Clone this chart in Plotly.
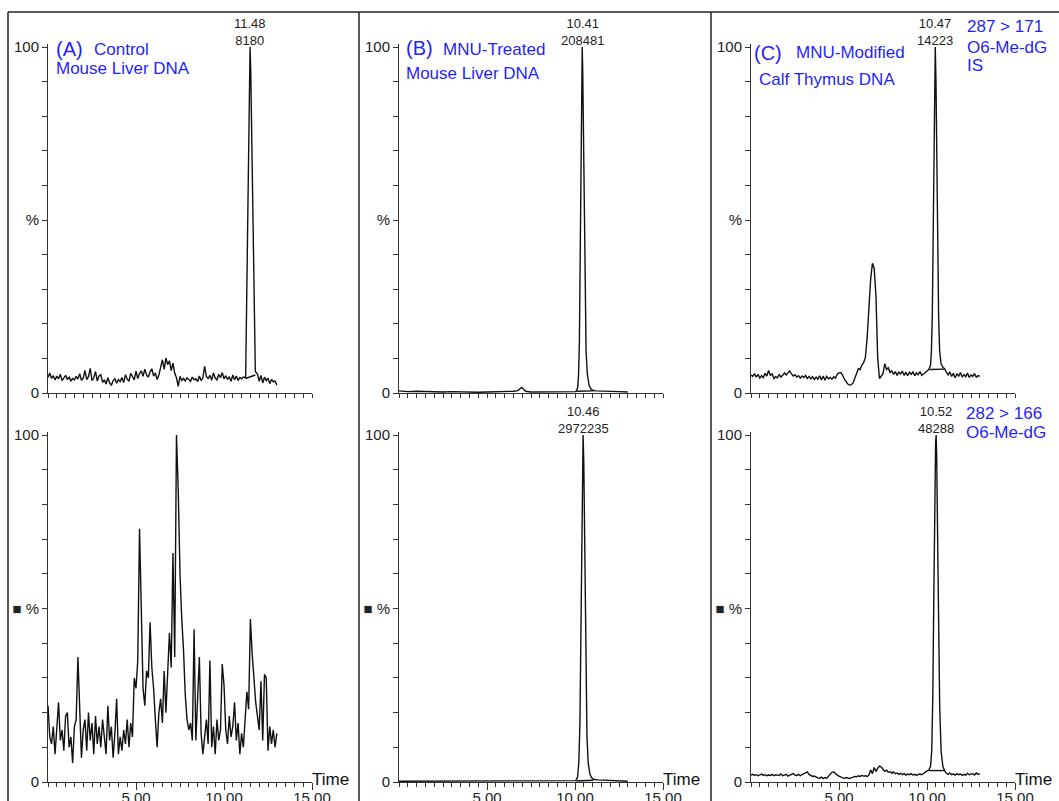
import plotly.graph_objects as go

W, H = 1059, 801

# ---------------- data ----------------
def time_grid(a, b):
    return [round(a + 0.1 * i, 2) for i in range(int(round((b - a) / 0.1)) + 1)]

# Panel A (control mouse liver DNA), top: 287 > 171 (IS)
a_top_t1 = time_grid(0.0, 11.1)
a_top_v1 = [4.5, 5.8, 4.2, 5.0, 3.8, 4.9, 4.1, 5.4, 3.6, 4.4, 5.1,
            3.9, 4.6, 3.5, 4.2, 3.8, 4.8, 4.0, 5.6, 3.7, 4.3,
            6.5, 3.9, 4.7, 7.1, 3.6, 4.4, 6.2, 3.5, 4.9, 5.3,
            3.1, 3.8, 2.6, 4.4, 3.0, 2.2, 3.6, 4.1, 2.8, 3.9,
            3.3, 4.5, 3.0, 5.3, 4.0, 3.4, 5.7, 4.6, 3.8, 6.3,
            4.2, 5.6, 6.4, 4.8, 6.9, 5.2, 4.6, 6.1, 7.0, 4.9,
            5.8, 3.9, 5.2, 7.4, 9.6, 6.8, 10.1, 8.2, 9.3, 6.5,
            8.6, 5.7, 4.4, 1.9, 4.8, 3.6, 4.2, 3.5, 4.4, 3.9,
            3.4, 4.6, 3.8, 4.1, 3.3, 4.9, 3.6, 4.4, 7.7, 4.8,
            4.2, 5.1, 3.7, 5.8, 4.3, 3.8, 5.4, 4.4, 5.9, 4.1,
            5.0, 3.9, 4.7, 3.4, 5.2, 3.8, 4.9, 3.6, 4.5, 4.1, 4.6]
a_top_peak_t = [11.23, 11.3, 11.38, 11.45, 11.48, 11.52, 11.6, 11.7, 11.78]
a_top_peak_v = [4.4, 30, 66, 95, 100, 93, 62, 30, 6.2]
a_top_t2 = time_grid(11.9, 13.0)
a_top_v2 = [5.5, 3.4, 5.1, 2.9, 4.6, 3.6, 4.3, 2.7, 3.9, 3.2, 3.5, 2.3]
a_top_base_t = [11.23, 11.78]
a_top_base_v = [4.2, 5.2]

# Panel A, bottom: 282 > 166
a_bot_t = time_grid(0.0, 13.0)
a_bot_v = [22, 13, 11, 16, 8, 17, 23, 12, 15, 9,
           19, 20, 10, 13, 5.5, 16, 18, 36, 20, 7,
           15, 18, 9, 20, 12, 17, 8, 19, 11, 16,
           10, 18, 13, 8, 22, 12, 16, 7, 14, 24,
           8, 13, 9, 15, 11, 18, 10, 17, 13, 30,
           27, 35, 73, 54, 27, 22, 32, 30, 46, 33,
           27, 18, 10, 20, 24, 17, 32, 20, 30, 43,
           33, 66, 36, 100, 84, 60, 47, 38, 25, 18,
           15, 17, 12, 44, 12, 22, 36, 14, 8, 13,
           18, 11, 35, 10, 16, 8, 18, 12, 15, 34,
           28, 15, 11, 19, 13, 16, 23, 12, 17, 8,
           14, 10, 20, 26, 21, 47, 37, 30, 23, 19,
           15, 29, 12, 31, 30, 9, 16, 11, 15, 10,
           14]

# Panel B (MNU-treated mouse liver DNA), top
b_top_t = [0, 0.5, 1, 1.5, 2, 2.5, 3, 3.5, 4, 4.5,
           5, 5.5, 6, 6.5, 6.75, 6.85, 6.97, 7.08, 7.2, 7.5,
           8, 8.5, 9, 9.5, 9.9, 10.05, 10.15, 10.2, 10.25, 10.3,
           10.35, 10.38, 10.41, 10.44, 10.48, 10.53, 10.58, 10.63, 10.7, 10.8,
           10.9, 11.0, 11.2, 11.5, 12.0, 12.5, 13.0]
b_top_v = [0.6, 0.4, 0.5, 0.4, 0.5, 0.3, 0.4, 0.3, 0.3, 0.2,
           0.3, 0.3, 0.4, 0.5, 0.7, 1.2, 1.6, 1.1, 0.5, 0.3,
           0.3, 0.2, 0.3, 0.3, 0.3, 0.4, 1.5, 5, 15, 36,
           66, 86, 100, 93, 74, 45, 24, 12, 5.5, 2.2,
           1.2, 0.8, 0.6, 0.6, 0.5, 0.4, 0.3]
b_top_base_t = [10.08, 11.05]
b_top_base_v = [0.5, 0.6]

# Panel B, bottom
b_bot_t = [0, 1, 2, 3, 4, 5, 6, 7, 8, 9,
           9.9, 10.05, 10.15, 10.22, 10.28, 10.33, 10.38, 10.42, 10.46, 10.5,
           10.54, 10.58, 10.63, 10.68, 10.75, 10.85, 10.95, 11.05, 11.3, 11.7,
           12.2, 12.6, 13.0]
b_bot_v = [0.2, 0.2, 0.2, 0.2, 0.2, 0.2, 0.2, 0.2, 0.2, 0.2,
           0.2, 0.4, 1.5, 6, 17, 36, 64, 86, 100, 92,
           72, 48, 26, 13, 5.5, 2.2, 1.2, 0.8, 0.6, 0.5,
           0.4, 0.3, 0.2]
b_bot_base_t = [10.08, 11.05]
b_bot_base_v = [0.3, 0.5]

# Panel C (MNU-modified calf thymus DNA), top
c_top_t1 = time_grid(0.0, 10.0)
c_top_v1 = [5.2, 4.8, 5.6, 4.6, 5.4, 4.3, 5.0, 4.4, 5.7, 4.9,
            6.5, 5.1, 5.5, 4.2, 4.7, 4.4, 5.3, 4.6, 5.1, 5.8,
            5.2, 5.7, 6.4, 5.5, 4.9, 5.3, 4.6, 5.0, 4.3, 4.9,
            4.5, 5.1, 4.2, 4.8, 4.1, 4.7, 3.9, 4.6, 4.0, 5.0,
            3.8, 4.9, 3.7, 4.8, 4.1, 4.5, 4.0, 4.7, 4.3, 5.4,
            5.8, 5.9, 5.2, 4.1, 3.4, 2.6, 2.3, 2.4, 2.9, 4.5,
            5.6, 7.0, 6.8, 8.1, 8.8, 10.3, 16, 24, 33, 37.5,
            36, 28, 10, 4.2, 5.0, 5.6, 8.5, 6.8, 7.3, 5.9,
            6.4, 5.4, 6.2, 5.1, 6.0, 5.5, 6.3, 5.2, 5.9, 5.0,
            6.0, 5.4, 6.1, 5.0, 5.8, 5.3, 6.2, 5.1, 5.5, 5.9,
            6.2]
c_top_peak_t = [10.1, 10.2, 10.25, 10.3, 10.35, 10.4, 10.44, 10.47, 10.51, 10.56,
                10.61, 10.66, 10.72, 10.8, 10.9, 11.0]
c_top_peak_v = [6.8, 8, 12, 22, 42, 70, 92, 100, 90, 66,
                40, 22, 12, 8.5, 7.4, 7.0]
c_top_t2 = time_grid(11.1, 13.0)
c_top_v2 = [6.0, 5.2, 6.1, 4.8, 5.7, 4.4, 5.5, 4.9, 5.9, 4.6,
            5.3, 4.7, 5.8, 4.5, 5.2, 4.8, 5.6, 4.6, 5.0, 4.9]
c_top_base_t = [10.15, 11.0]
c_top_base_v = [6.8, 6.9]

# Panel C, bottom
c_bot_t1 = time_grid(0.0, 10.0)
c_bot_v1 = [2.0, 2.2, 1.9, 2.1, 1.8, 2.0, 2.3, 1.9, 2.1, 1.8,
            2.0, 1.9, 2.2, 1.8, 2.1, 2.0, 1.9, 2.3, 1.8, 2.0,
            2.2, 1.7, 2.0, 2.1, 2.4, 2.0, 1.9, 2.2, 1.8, 2.1,
            2.4, 2.6, 2.9, 2.2, 2.0, 1.6, 1.7, 1.4, 1.2, 1.1,
            1.4, 1.0, 1.3, 1.1, 1.7, 2.2, 2.8, 2.9, 2.3, 2.0,
            1.7, 1.5, 1.2, 1.0, 1.3, 1.1, 1.0, 1.2, 1.4, 1.6,
            1.5, 1.8, 1.6, 1.9, 1.7, 1.8, 1.6, 2.0, 3.5, 2.4,
            4.2, 3.0, 4.0, 4.6, 4.3, 3.6, 3.1, 3.4, 2.8, 3.0,
            2.5, 2.9, 2.4, 2.6, 2.2, 2.5, 2.1, 2.4, 2.0, 2.3,
            2.1, 2.4, 2.0, 2.2, 1.9, 2.2, 2.3, 2.1, 2.5, 3.0,
            3.2]
c_bot_peak_t = [10.1, 10.2, 10.27, 10.33, 10.38, 10.44, 10.49, 10.52, 10.55, 10.6,
                10.66, 10.72, 10.8, 10.9, 11.0]
c_bot_peak_v = [3.4, 4.5, 9, 25, 50, 82, 98, 100, 94, 72,
                45, 22, 9, 4.5, 3.3]
c_bot_t2 = time_grid(11.1, 13.0)
c_bot_v2 = [2.5, 2.2, 2.6, 2.1, 2.3, 2.0, 2.4, 2.1, 2.3, 1.9,
            2.2, 2.0, 2.5, 2.1, 2.3, 2.4, 2.0, 2.6, 2.2, 2.4]
c_bot_base_t = [10.1, 11.0]
c_bot_base_v = [3.3, 3.3]

# Peak annotations (retention time / area)
peak_panel = [1, 2, 3, 5, 6]
peak_rt = [11.48, 10.41, 10.47, 10.46, 10.52]
peak_area = ["8180", "208481", "14223", "2972235", "48288"]

x_tick_vals = [0, 2.5, 5, 7.5, 10, 12.5, 15]
x_tick_text = ["", "", "5.00", "", "10.00", "", "15.00"]
x_minor_vals = [round(0.5 * i, 1) for i in range(31)]
y_tick_vals = [0, 10, 20, 30, 40, 50, 60, 70, 80, 90, 100]
y_tick_text_top = ["0", "", "", "", "", "%", "", "", "", "", "100"]
y_tick_text_bot = ["0", "", "", "", "", "■ %", "", "", "", "", "100"]

# ---------------- layout helpers ----------------
FONT = "Liberation Sans, Arial, sans-serif"
LINE = "#111111"
AX = "#333333"
BLUE = "#1f1fff"

def fx(p):
    return p / W

def fy(p):
    return 1 - p / H

panels_x = [(48, 312), (399, 663), (751, 1015)]
rows_y = [(47, 393), (435, 782)]   # pixel of 100 %, pixel of 0 %
YMAX = 100.8

fig = go.Figure()

series = {
    1: [(a_top_t1 + a_top_peak_t + a_top_t2, a_top_v1 + a_top_peak_v + a_top_v2),
        (a_top_base_t, a_top_base_v)],
    2: [(b_top_t, b_top_v), (b_top_base_t, b_top_base_v)],
    3: [(c_top_t1 + c_top_peak_t + c_top_t2, c_top_v1 + c_top_peak_v + c_top_v2),
        (c_top_base_t, c_top_base_v)],
    4: [(a_bot_t, a_bot_v)],
    5: [(b_bot_t, b_bot_v), (b_bot_base_t, b_bot_base_v)],
    6: [(c_bot_t1 + c_bot_peak_t + c_bot_t2, c_bot_v1 + c_bot_peak_v + c_bot_v2),
        (c_bot_base_t, c_bot_base_v)],
}

layout_axes = {}
for r in range(2):
    for c in range(3):
        idx = r * 3 + c + 1
        sfx = "" if idx == 1 else str(idx)
        x0, x1 = panels_x[c]
        y100, y0 = rows_y[r]
        ytop = y100 - (YMAX - 100) * (y0 - y100) / 100
        layout_axes["xaxis" + sfx] = dict(
            domain=[fx(x0), fx(x1)], range=[0, 15], anchor="y" + sfx,
            automargin=False,
            showline=True, linecolor=AX, linewidth=1,
            ticks="outside", ticklen=7, tickwidth=1, tickcolor=AX,
            tickmode="array", tickvals=x_tick_vals,
            ticktext=x_tick_text if r == 1 else [""] * len(x_tick_vals),
            ticklabelstandoff=-5,
            minor=dict(tickmode="array", tickvals=x_minor_vals, ticks="outside",
                       ticklen=4, tickwidth=1, tickcolor=AX, showgrid=False),
            showgrid=False, zeroline=False, fixedrange=True,
            tickfont=dict(family=FONT, size=15, color="#222"),
        )
        layout_axes["yaxis" + sfx] = dict(
            domain=[fy(y0), fy(ytop)], range=[0, YMAX], anchor="x" + sfx,
            automargin=False,
            showline=True, linecolor=AX, linewidth=1,
            ticks="outside", ticklen=5, tickwidth=1, tickcolor=AX,
            tickmode="array", tickvals=y_tick_vals,
            ticktext=y_tick_text_top if r == 0 else y_tick_text_bot,
            showgrid=False, zeroline=False, fixedrange=True,
            tickfont=dict(family=FONT, size=15, color="#222"),
        )
        for tx, vy in series[idx]:
            fig.add_trace(go.Scatter(x=tx, y=vy, mode="lines",
                                     line=dict(color=LINE, width=1.4),
                                     xaxis="x" + sfx, yaxis="y" + sfx,
                                     showlegend=False, hoverinfo="skip"))

annotations = []
# peak labels
for p, rt, area in zip(peak_panel, peak_rt, peak_area):
    sfx = "" if p == 1 else str(p)
    annotations.append(dict(x=rt, y=100, xref="x" + sfx, yref="y" + sfx,
                            text=f"{rt:.2f}<br>{area}", showarrow=False,
                            xanchor="center", yanchor="bottom", yshift=-3,
                            font=dict(family=FONT, size=13, color="#222")))

# "Time" labels
for p in (4, 5, 6):
    annotations.append(dict(x=15, y=0, xref=f"x{p}", yref=f"y{p}", text="Time",
                            showarrow=False, xanchor="left", yanchor="middle",
                            xshift=-2, yshift=3,
                            font=dict(family=FONT, size=17, color="#111")))

# blue panel titles (pixel positions)
blue_texts = [
    ("(A)", 54, 49, 20), ("Control", 92, 49, 17), ("Mouse Liver DNA", 54, 69, 17),
    ("(B)", 404, 48, 20), ("MNU-Treated", 441, 49, 17), ("Mouse Liver DNA", 404, 73, 17),
    ("(C)", 752, 53, 20), ("MNU-Modified", 794, 53, 17), ("Calf Thymus DNA", 757, 79, 17),
    ("287 > 171", 965, 27, 17), ("O6-Me-dG", 965, 47, 17), ("IS", 965, 66, 17),
    ("282 > 166", 964, 413, 17), ("O6-Me-dG", 964, 432, 17),
]
for txt, px, py, sz in blue_texts:
    annotations.append(dict(x=fx(px), y=fy(py), xref="paper", yref="paper", text=txt,
                            showarrow=False, xanchor="left", yanchor="middle",
                            font=dict(family=FONT, size=sz, color=BLUE)))

frame_lines = [(8, 12, 8, H), (8, 12, W, 12), (359, 12, 359, H), (711, 12, 711, H)]
shapes = [dict(type="line", xref="paper", yref="paper",
               x0=fx(a), y0=fy(b), x1=fx(c), y1=fy(d),
               line=dict(color="#222", width=1.5)) for a, b, c, d in frame_lines]

fig.update_layout(
    width=W, height=H, margin=dict(l=0, r=0, t=0, b=0, autoexpand=False),
    paper_bgcolor="white", plot_bgcolor="white",
    font=dict(family=FONT, color="#222"),
    annotations=annotations, shapes=shapes, showlegend=False,
    **layout_axes,
)

fig.write_html(
    "out.html",
    config={"displayModeBar": False},
    post_script="document.body.style.margin='0';document.body.style.overflow='hidden';"
                "document.documentElement.style.overflow='hidden';",
)
